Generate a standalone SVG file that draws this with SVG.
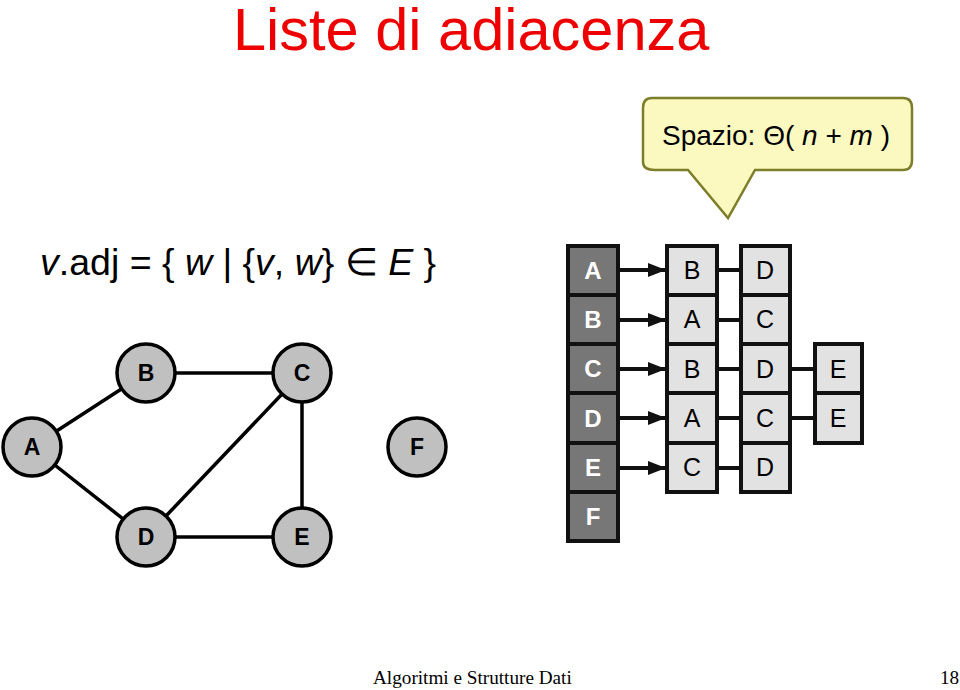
<svg xmlns="http://www.w3.org/2000/svg" width="960" height="690" viewBox="0 0 960 690">
<style>
.title{font-family:"Liberation Sans",Arial,sans-serif;font-size:59.5px;fill:#ee0000}
.sans{font-family:"Liberation Sans",Arial,sans-serif}
.gnode circle{fill:#c0c0c0;stroke:#000;stroke-width:3.5}
.gnode text{font-family:"Liberation Sans",Arial,sans-serif;font-weight:bold;font-size:23px;text-anchor:middle;fill:#000}
.edge{stroke:#000;stroke-width:3.5;fill:none}
.head rect{fill:#777;stroke:#111;stroke-width:4}
.head text{font-family:"Liberation Sans",Arial,sans-serif;font-weight:bold;font-size:24px;fill:#fff;text-anchor:middle}
.cell rect{fill:#e2e2e2;stroke:#111;stroke-width:4}
.cell text{font-family:"Liberation Sans",Arial,sans-serif;font-size:25px;fill:#000;text-anchor:middle}
.link{stroke:#111;stroke-width:4;fill:none}
.foot{font-family:"Liberation Serif","Times New Roman",serif;font-size:19.2px;fill:#000}
</style>
<defs>
<marker id="arrb" viewBox="0 0 18 14" refX="18" refY="7" markerWidth="18" markerHeight="14" orient="auto" markerUnits="userSpaceOnUse">
<path d="M0,0 L18,7 L0,14 Z" fill="#111"/>
</marker>
</defs>
<rect width="960" height="690" fill="#fff"/>
<text class="title" x="233" y="50">Liste di adiacenza</text>

<g id="callout">
<path d="M652,98 Q643,98 643,108 L643,162 Q643,170 655,170 L688,170 L728,218 L755,170 L903,170 Q912,170 912,160 L912,108 Q912,98 903,98 Z" fill="#fbf8c0" stroke="#7d7d2a" stroke-width="2.5"/>
<text class="sans" x="662" y="145" font-size="28">Spazio: Θ( <tspan font-style="italic">n</tspan> + <tspan font-style="italic">m</tspan> )</text>
</g>

<text id="formula" class="sans" x="40" y="275" font-size="37.5"><tspan font-style="italic">v</tspan>.adj = { <tspan font-style="italic">w</tspan> | {<tspan font-style="italic">v</tspan>, <tspan font-style="italic">w</tspan>} ∈ <tspan font-style="italic">E</tspan> }</text>

<g id="graph-edges">
<line class="edge" x1="146" y1="373" x2="302" y2="373"/>
<line class="edge" x1="32" y1="447" x2="146" y2="373"/>
<line class="edge" x1="32" y1="447" x2="146" y2="537"/>
<line class="edge" x1="146" y1="537" x2="302" y2="373"/>
<line class="edge" x1="302" y1="373" x2="302" y2="537"/>
<line class="edge" x1="146" y1="537" x2="302" y2="537"/>
</g>
<g id="gA" class="gnode"><circle cx="32" cy="447" r="29"/><text x="32" y="455">A</text></g>
<g id="gB" class="gnode"><circle cx="146" cy="373" r="29"/><text x="146" y="381">B</text></g>
<g id="gC" class="gnode"><circle cx="302" cy="373" r="29"/><text x="302" y="381">C</text></g>
<g id="gD" class="gnode"><circle cx="146" cy="537" r="29"/><text x="146" y="545">D</text></g>
<g id="gE" class="gnode"><circle cx="302" cy="537" r="29"/><text x="302" y="545">E</text></g>
<g id="gF" class="gnode"><circle cx="417" cy="447" r="29"/><text x="417" y="455">F</text></g>

<g id="list-links">
<line class="link" x1="619" y1="270" x2="666" y2="270" marker-end="url(#arrb)"/>
<line class="link" x1="619" y1="320" x2="666" y2="320" marker-end="url(#arrb)"/>
<line class="link" x1="619" y1="369" x2="666" y2="369" marker-end="url(#arrb)"/>
<line class="link" x1="619" y1="418" x2="666" y2="418" marker-end="url(#arrb)"/>
<line class="link" x1="619" y1="468" x2="666" y2="468" marker-end="url(#arrb)"/>
<line class="link" x1="717" y1="270" x2="741" y2="270"/>
<line class="link" x1="717" y1="320" x2="741" y2="320"/>
<line class="link" x1="717" y1="369" x2="741" y2="369"/>
<line class="link" x1="717" y1="418" x2="741" y2="418"/>
<line class="link" x1="717" y1="468" x2="741" y2="468"/>
<line class="link" x1="790" y1="369" x2="815" y2="369"/>
<line class="link" x1="790" y1="418" x2="815" y2="418"/>
</g>

<g id="heads" class="head">
<g id="hA"><rect x="568" y="246" width="50" height="49"/><text x="593" y="279">A</text></g>
<g id="hB"><rect x="568" y="295" width="50" height="49"/><text x="593" y="328">B</text></g>
<g id="hC"><rect x="568" y="344" width="50" height="49"/><text x="593" y="377">C</text></g>
<g id="hD"><rect x="568" y="393" width="50" height="50"/><text x="593" y="427">D</text></g>
<g id="hE"><rect x="568" y="443" width="50" height="49"/><text x="593" y="476">E</text></g>
<g id="hF"><rect x="568" y="492" width="50" height="49"/><text x="593" y="525">F</text></g>
</g>

<g id="cells" class="cell">
<g id="cA1"><rect x="667" y="246" width="50" height="49"/><text x="692" y="279">B</text></g>
<g id="cA2"><rect x="741" y="246" width="49" height="49"/><text x="765" y="279">D</text></g>
<g id="cB1"><rect x="667" y="295" width="50" height="49"/><text x="692" y="328">A</text></g>
<g id="cB2"><rect x="741" y="295" width="49" height="49"/><text x="765" y="328">C</text></g>
<g id="cC1"><rect x="667" y="344" width="50" height="49"/><text x="692" y="378">B</text></g>
<g id="cC2"><rect x="741" y="344" width="49" height="49"/><text x="765" y="378">D</text></g>
<g id="cC3"><rect x="815" y="344" width="47" height="49"/><text x="838" y="378">E</text></g>
<g id="cD1"><rect x="667" y="393" width="50" height="50"/><text x="692" y="427">A</text></g>
<g id="cD2"><rect x="741" y="393" width="49" height="50"/><text x="765" y="427">C</text></g>
<g id="cD3"><rect x="815" y="393" width="47" height="50"/><text x="838" y="427">E</text></g>
<g id="cE1"><rect x="667" y="443" width="50" height="49"/><text x="692" y="476">C</text></g>
<g id="cE2"><rect x="741" y="443" width="49" height="49"/><text x="765" y="476">D</text></g>
</g>

<text class="foot" x="373" y="684">Algoritmi e Strutture Dati</text>
<text class="foot" x="940" y="684">18</text>
</svg>
